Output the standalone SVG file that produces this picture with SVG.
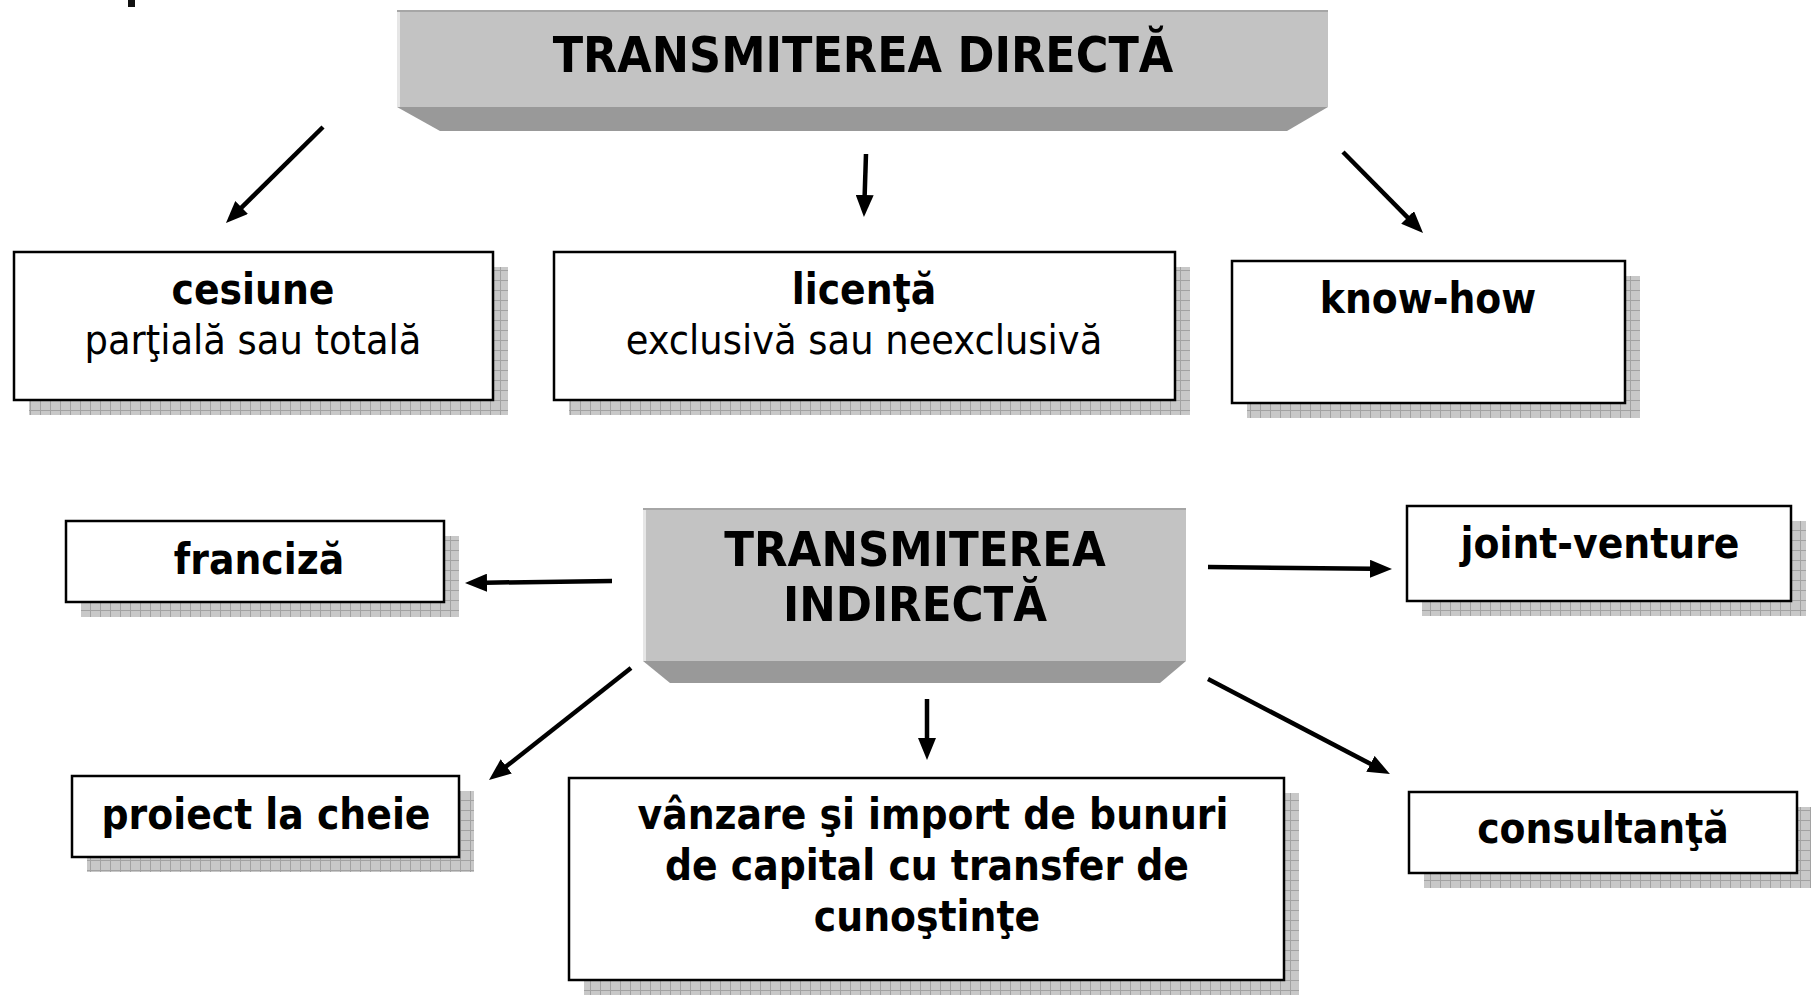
<svg xmlns="http://www.w3.org/2000/svg" width="1811" height="995" viewBox="0 0 1811 995">
<style>
.b{font-family:"DejaVu Sans Condensed","DejaVu Sans",sans-serif;font-weight:bold;fill:#000;text-anchor:middle}
.r{font-family:"DejaVu Sans Condensed","DejaVu Sans",sans-serif;font-weight:normal;fill:#000;text-anchor:middle}
.box{fill:#fff;stroke:#000;stroke-width:2.5}
.sh{fill:url(#grid)}
.face{fill:#c3c3c3}
.bevel{fill:#999}
.hl{fill:#e6e6e6}
.tl{fill:#a6a6a6}
.arr{stroke:#000;stroke-width:4.5;fill:none;marker-end:url(#ah)}
</style>
<defs>
<pattern id="grid" width="10" height="10" patternUnits="userSpaceOnUse">
<rect width="10" height="10" fill="#c8c8c8"/>
<path d="M0,0.5H10M0.5,0V10" stroke="#a2a2a2" stroke-width="1"/>
</pattern>
<marker id="ah" markerUnits="userSpaceOnUse" markerWidth="22" markerHeight="18" refX="2" refY="9" orient="auto">
<path d="M0,0L22,9L0,18z" fill="#000"/>
</marker>
</defs>
<rect x="128" y="0" width="7" height="7" fill="#111"/>
<g id="direct">
<rect class="face" x="397" y="10" width="931" height="97"/>
<rect class="tl" x="397" y="10" width="931" height="2"/>
<rect class="hl" x="397" y="12" width="3" height="95"/>
<polygon class="bevel" points="397,107 1328,107 1287,131 440,131"/>
<text class="b" x="863" y="72" font-size="49.5">TRANSMITEREA DIRECTĂ</text>
</g>
<g id="cesiune">
<rect class="sh" x="29" y="267" width="479" height="148"/>
<rect class="box" x="14" y="252" width="479" height="148"/>
<text class="b" x="253" y="304" font-size="42">cesiune</text>
<text class="r" x="253" y="354" font-size="41">parţială sau totală</text>
</g>
<g id="licenta">
<rect class="sh" x="569" y="267" width="621" height="148"/>
<rect class="box" x="554" y="252" width="621" height="148"/>
<text class="b" x="864" y="304" font-size="42">licenţă</text>
<text class="r" x="864" y="354" font-size="41">exclusivă sau neexclusivă</text>
</g>
<g id="knowhow">
<rect class="sh" x="1247" y="276" width="393" height="142"/>
<rect class="box" x="1232" y="261" width="393" height="142"/>
<text class="b" x="1428" y="313" font-size="42">know-how</text>
</g>
<g id="indirect">
<rect class="face" x="643" y="508" width="543" height="153"/>
<rect class="tl" x="643" y="508" width="543" height="2"/>
<rect class="hl" x="643" y="510" width="3" height="151"/>
<polygon class="bevel" points="643,661 1186,661 1160,683 670,683"/>
<text class="b" x="915" y="566" font-size="48.5">TRANSMITEREA</text>
<text class="b" x="915" y="621" font-size="48.5">INDIRECTĂ</text>
</g>
<g id="franciza">
<rect class="sh" x="81" y="536" width="378" height="81"/>
<rect class="box" x="66" y="521" width="378" height="81"/>
<text class="b" x="259" y="574" font-size="42">franciză</text>
</g>
<g id="jointventure">
<rect class="sh" x="1422" y="521" width="384" height="95"/>
<rect class="box" x="1407" y="506" width="384" height="95"/>
<text class="b" x="1600" y="558" font-size="42">joint-venture</text>
</g>
<g id="proiect">
<rect class="sh" x="87" y="791" width="387" height="81"/>
<rect class="box" x="72" y="776" width="387" height="81"/>
<text class="b" x="266" y="829" font-size="42">proiect la cheie</text>
</g>
<g id="vanzare">
<rect class="sh" x="584" y="793" width="715" height="202"/>
<rect class="box" x="569" y="778" width="715" height="202"/>
<text class="b" x="933" y="829" font-size="42">vânzare şi import de bunuri</text>
<text class="b" x="927" y="880" font-size="42">de capital cu transfer de</text>
<text class="b" x="927" y="931" font-size="42">cunoştinţe</text>
</g>
<g id="consultanta">
<rect class="sh" x="1424" y="807" width="388" height="81"/>
<rect class="box" x="1409" y="792" width="388" height="81"/>
<text class="b" x="1603" y="843" font-size="42">consultanţă</text>
</g>
<g id="connectors">
<path class="arr" d="M323,127L240.2,208.9"/>
<path class="arr" d="M866,154L864.6,197"/>
<path class="arr" d="M1343,152L1409,218.8"/>
<path class="arr" d="M612,581L485,582.7"/>
<path class="arr" d="M1208,567L1372,568.8"/>
<path class="arr" d="M631,668L504.7,767.6"/>
<path class="arr" d="M927,699L927,740"/>
<path class="arr" d="M1208,679L1372.2,764.8"/>
</g>
</svg>
